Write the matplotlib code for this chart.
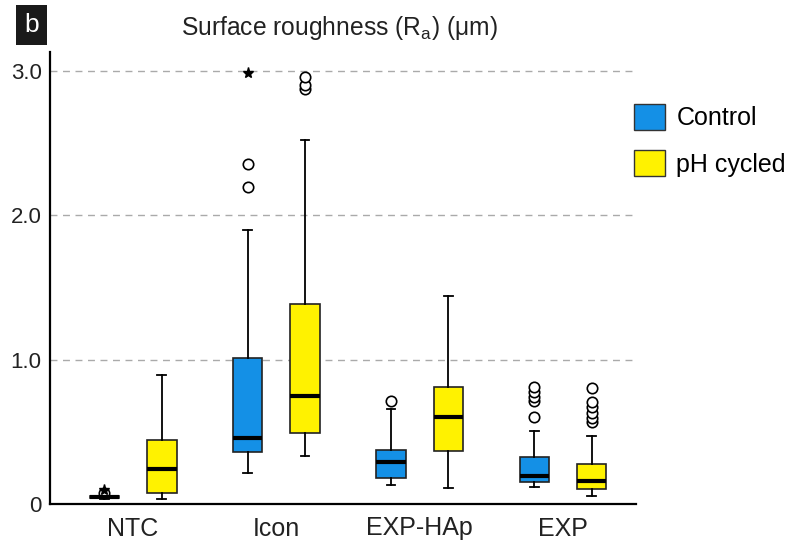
import matplotlib
matplotlib.use("Agg")
import matplotlib.pyplot as plt
from matplotlib.patches import Patch

plt.rcParams['font.family'] = ['Liberation Sans', 'DejaVu Sans']
plt.rcParams['mathtext.fontset'] = 'custom'
plt.rcParams['mathtext.rm'] = 'Liberation Sans'

# Box statistics (um)
groups = ['NTC', 'Icon', 'EXP-HAp', 'EXP']
series = ['Control', 'pH cycled']

ctrl_whislo = [0.035, 0.213, 0.13, 0.12]
ctrl_q1 = [0.042, 0.36, 0.18, 0.152]
ctrl_med = [0.047, 0.46, 0.293, 0.196]
ctrl_q3 = [0.052, 1.012, 0.374, 0.326]
ctrl_whishi = [0.057, 1.898, 0.66, 0.503]
ctrl_fliers = [[0.075], [2.196, 2.354], [0.714], [0.603, 0.714, 0.744, 0.778, 0.813]]
ctrl_extremes = [[0.095], [2.984], [], []]

ph_whislo = [0.033, 0.335, 0.111, 0.053]
ph_q1 = [0.074, 0.49, 0.369, 0.102]
ph_med = [0.243, 0.75, 0.605, 0.162]
ph_q3 = [0.443, 1.384, 0.813, 0.279]
ph_whishi = [0.894, 2.524, 1.443, 0.471]
ph_fliers = [[], [2.873, 2.90, 2.96], [], [0.57, 0.594, 0.628, 0.674, 0.709, 0.80]]

colors = ['#1490e6', '#fff200']

fig = plt.figure(figsize=(7.9, 5.43), dpi=100)
ax = fig.add_axes([50 / 790, 39 / 543, 586 / 790, 452 / 543])


def make_stats(lo, q1, med, q3, hi, fl):
    return [dict(whislo=lo[i], q1=q1[i], med=med[i], q3=q3[i], whishi=hi[i],
                 fliers=fl[i]) for i in range(len(groups))]


offset = 0.2
width = 0.206
all_stats = [make_stats(ctrl_whislo, ctrl_q1, ctrl_med, ctrl_q3, ctrl_whishi, ctrl_fliers),
             make_stats(ph_whislo, ph_q1, ph_med, ph_q3, ph_whishi, ph_fliers)]

for k, stats in enumerate(all_stats):
    pos = [i + (k * 2 - 1) * offset for i in range(len(groups))]
    ax.bxp(stats, positions=pos, widths=width, capwidths=0.06, patch_artist=True,
           showfliers=True, manage_ticks=False,
           boxprops=dict(facecolor=colors[k], edgecolor='#222222', linewidth=1.2),
           medianprops=dict(color='black', linewidth=3),
           whiskerprops=dict(color='black', linewidth=1.3),
           capprops=dict(color='black', linewidth=1.3),
           flierprops=dict(marker='o', markerfacecolor='white', markeredgecolor='black',
                           markersize=7.5, markeredgewidth=1.2, linestyle='none'))

# extreme values drawn as stars
for i, vals in enumerate(ctrl_extremes):
    if vals:
        ax.plot([i - offset] * len(vals), vals, marker='*', color='black',
                markersize=8, linestyle='none', zorder=5)

ax.set_xlim(-0.58, 3.51)
ax.set_ylim(0, 3.13)
ax.set_yticks([0, 1, 2, 3])
ax.set_yticklabels(['0', '1.0', '2.0', '3.0'])
ax.set_xticks(range(len(groups)))
ax.set_xticklabels(groups)
ax.tick_params(axis='both', length=0, labelsize=16, colors='#222222', pad=6)
ax.tick_params(axis='x', labelsize=18, pad=9)

for y in [1, 2, 3]:
    ax.axhline(y, color='#aaaaaa', linestyle=(0, (5, 4)), linewidth=1, zorder=0)

for s in ['top', 'right']:
    ax.spines[s].set_visible(False)
for s in ['left', 'bottom']:
    ax.spines[s].set_linewidth(1.6)

fig.text(339 / 790, 1 - 28 / 543, r'Surface roughness (R$_{\mathrm{a}}$) (μm)',
         ha='center', va='center', fontsize=17.7, color='#222222')

fig.text(31.5 / 790, 1 - 25 / 543, 'b', ha='center', va='center', fontsize=19, color='white',
         bbox=dict(boxstyle='square,pad=0.3', facecolor='#1a1a1a', edgecolor='none'))

handles = [Patch(facecolor=colors[k], edgecolor='#333333', linewidth=1) for k in range(2)]
fig.legend(handles, series, loc='upper left', bbox_to_anchor=(634 / 790, 1 - 104 / 543),
           frameon=False, fontsize=18, handlelength=1.22, handleheight=1.22,
           labelspacing=0.8, handletextpad=0.48, borderpad=0, borderaxespad=0)

fig.savefig('out.png', dpi=100)
